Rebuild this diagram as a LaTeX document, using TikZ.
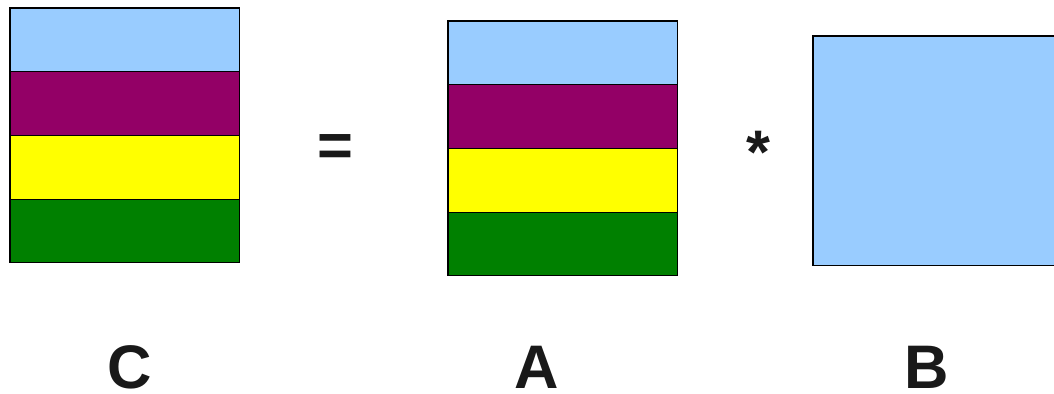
\documentclass[tikz,border=0pt]{standalone}
\usepackage{fontspec}
\setmainfont{Liberation Sans}
\usetikzlibrary{positioning}
\definecolor{skyblue}{HTML}{99CCFF}
\definecolor{wine}{HTML}{930066}
\definecolor{lemon}{HTML}{FFFF00}
\definecolor{leaf}{HTML}{008000}

\begin{document}
\begin{tikzpicture}[
  x=0.02cm, y=-0.02cm,
  every node/.style={inner sep=0pt, outer sep=0pt},
  band/.style={draw=black, line width=0.6pt, minimum width=4.6cm, minimum height=1.275cm, anchor=north west},
  square/.style={draw=black, line width=0.6pt, minimum width=4.86cm, minimum height=4.6cm, anchor=north west},
  bigtext/.style={font=\fontsize{35}{40}\selectfont\bfseries, text=black!90, anchor=base}
]
\useasboundingbox (0,0) rectangle (1054,393);

% matrix C
\node[band, fill=skyblue] (c1) at (10,8) {};
\node[band, fill=wine, below=0pt of c1] (c2) {};
\node[band, fill=lemon, below=0pt of c2] (c3) {};
\node[band, fill=leaf, below=0pt of c3] (c4) {};

% matrix A
\node[band, fill=skyblue] (a1) at (448,21) {};
\node[band, fill=wine, below=0pt of a1] (a2) {};
\node[band, fill=lemon, below=0pt of a2] (a3) {};
\node[band, fill=leaf, below=0pt of a3] (a4) {};

% matrix B
\node[square, fill=skyblue] (b) at (813,36) {};

% signs
\node[bigtext] (eq) at (335,166) {=};
\node[bigtext] (times) at (758,173) {*};

% names
\node[bigtext] (namec) at (130,388) {C};
\node[bigtext] (namea) at (537,388) {A};
\node[bigtext] (nameb) at (927,388) {B};
\end{tikzpicture}
\end{document}
